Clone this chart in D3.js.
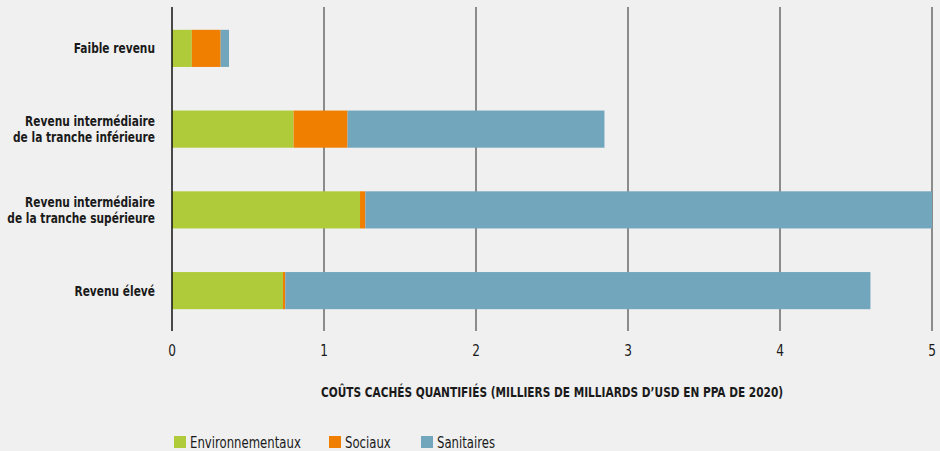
<!DOCTYPE html>
<html>
<head>
<meta charset="utf-8">
<script src="https://cdn.jsdelivr.net/npm/d3@7"></script>
<style>
	body { margin: 0; background: #f0f0f0; }
	svg { display: block; font-family: 'DejaVu Sans Condensed', 'DejaVu Sans', sans-serif; font-stretch: condensed; }
</style>
</head>
<body>
<div class="svg-container"></div>
<script>
const w = 940;
const h = 451;

// income groups, top to bottom
const categories = [
	['Faible revenu'],
	['Revenu intermédiaire', 'de la tranche inférieure'],
	['Revenu intermédiaire', 'de la tranche supérieure'],
	['Revenu élevé'],
];
const seriesNames = ['Environnementaux', 'Sociaux', 'Sanitaires'];
const environnementaux = [0.13, 0.8, 1.237, 0.73];
const sociaux = [0.19, 0.355, 0.035, 0.015];
const sanitaires = [0.055, 1.69, 3.728, 3.85];
const xTicks = [0, 1, 2, 3, 4, 5];
const colorMap = ['#b0cb39', '#f07f00', '#72a6bd'];

const margin = {left: 172, right: 8, top: 7, bottom: 120};

const svg = d3
	.select('.svg-container')
	.append('svg')
	.attr('width', w)
	.attr('height', h)
	.style('background-color', '#f0f0f0');

const x = d3.scaleLinear().domain([0, 5]).range([margin.left, 932]);
const y = d3
	.scaleBand()
	.domain(d3.range(categories.length))
	.range([8, 331])
	.paddingInner(0.54)
	.paddingOuter(0.27);

// table for d3.stack
const table = categories.map((c, i) => ({
	i,
	Environnementaux: environnementaux[i],
	Sociaux: sociaux[i],
	Sanitaires: sanitaires[i],
}));
const stacked = d3.stack().keys(seriesNames)(table);

// gridlines
svg
	.append('g')
	.selectAll('line')
	.data(xTicks.slice(1))
	.enter()
	.append('line')
	.attr('x1', d => x(d))
	.attr('x2', d => x(d))
	.attr('y1', margin.top)
	.attr('y2', 331)
	.attr('stroke', '#555')
	.attr('stroke-width', 1.3);

svg
	.append('g')
	.selectAll('g')
	.data(stacked)
	.enter()
	.append('g')
	.attr('fill', (d, i) => colorMap[i])
	.selectAll('rect')
	.data(d => d)
	.enter()
	.append('rect')
	.attr('x', d => x(d[0]))
	.attr('width', d => x(d[1]) - x(d[0]))
	.attr('y', d => y(d.data.i))
	.attr('height', y.bandwidth());

// zero line
svg
	.append('line')
	.attr('x1', x(0))
	.attr('x2', x(0))
	.attr('y1', margin.top)
	.attr('y2', 331)
	.attr('stroke', '#111')
	.attr('stroke-width', 1.5);

// category labels (squeezed: the original face is narrower than DejaVu Condensed)
const labels = svg
	.append('g')
	.selectAll('text')
	.data(categories)
	.enter()
	.append('text')
	.attr('text-anchor', 'end')
	.attr('font-weight', 'bold')
	.attr('font-size', 14.5)
	.attr('fill', '#1a1a1a')
	.attr('transform', (d, i) => `translate(155, ${y(i) + y.bandwidth() / 2}) scale(0.815, 1)`);

labels
	.selectAll('tspan')
	.data(d => d.map(t => ({t, n: d.length})))
	.enter()
	.append('tspan')
	.attr('x', 0)
	.attr('dy', (d, j) => (j === 0 ? (d.n === 1 ? 5 : -3) : 16))
	.text(d => d.t);

// x tick labels
svg
	.append('g')
	.selectAll('text')
	.data(xTicks)
	.enter()
	.append('text')
	.attr('transform', d => `translate(${x(d)}, 356) scale(0.9, 1)`)
	.attr('text-anchor', 'middle')
	.attr('font-size', 15)
	.attr('fill', '#1a1a1a')
	.text(d => d);

svg
	.append('text')
	.attr('transform', `translate(${(x(0) + x(5)) / 2}, 397) scale(0.84, 1)`)
	.attr('text-anchor', 'middle')
	.attr('font-size', 14)
	.attr('font-weight', 'bold')
	.attr('fill', '#1a1a1a')
	.text('COÛTS CACHÉS QUANTIFIÉS (MILLIERS DE MILLIARDS D’USD EN PPA DE 2020)');

// legend
const legendX = [174, 329, 421];
const legend = svg
	.append('g')
	.selectAll('g')
	.data(seriesNames)
	.enter()
	.append('g')
	.attr('transform', (d, i) => `translate(${legendX[i]}, 436)`);

legend
	.append('rect')
	.attr('width', 12)
	.attr('height', 12)
	.attr('fill', (d, i) => colorMap[i]);

legend
	.append('text')
	.attr('transform', `translate(16, 11.5) scale(0.84, 1)`)
	.attr('font-size', 15.5)
	.attr('fill', '#1a1a1a')
	.text(d => d);
</script>
</body>
</html>
